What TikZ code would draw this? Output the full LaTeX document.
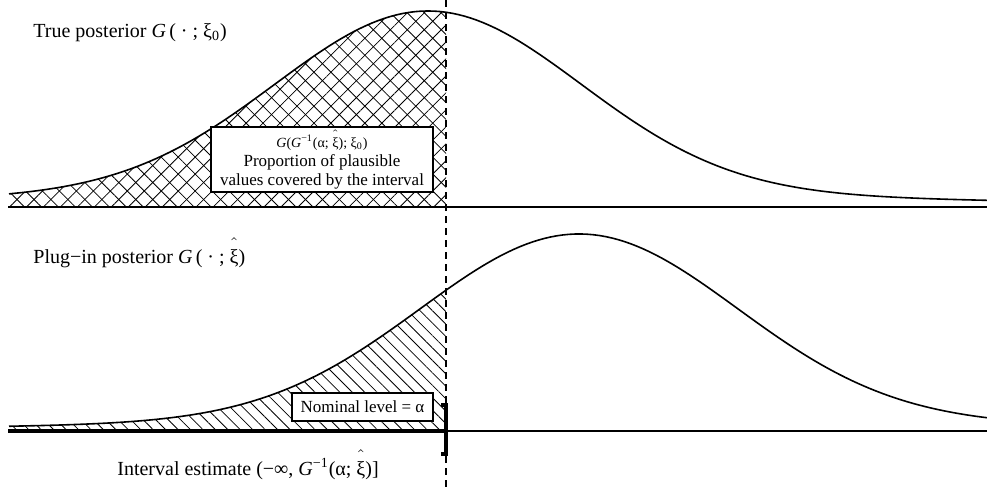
\documentclass[tikz,border=0pt]{standalone}
\usepackage{fontspec}
\setmainfont{Liberation Serif}
\usetikzlibrary{patterns.meta}
\newcommand{\xihat}{$\hat{\textrm{\raisebox{0pt}[1.02em]{ξ}}}$}

\begin{document}
\begin{tikzpicture}[x=0.5pt, y=-0.5pt,
  declare function={sq(\u)=\u*\u;
    gtrue(\t)=182*exp(-0.5*sq((\t-428)/152))+14*exp(-0.5*sq((\t-428)/450));
    gplug(\t)=187*exp(-0.5*sq((\t-579)/158))+10*exp(-0.5*sq((\t-579)/450));},
  dens/.style={line width=0.8pt},
  infobox/.style={draw, fill=white, line width=0.6pt, align=center, inner sep=1pt, font=\fontsize{8.5}{9.5}\selectfont},
  lbl/.style={anchor=base west, inner sep=0pt, font=\fontsize{10}{12}\selectfont}]
\useasboundingbox (0,0) rectangle (987,488);
\coordinate (toptop) at (446,0);
\coordinate (cutbot) at (446,488);
\coordinate (topl) at (8,207);
\coordinate (topr) at (987,207);
\coordinate (botl) at (8,431);
\coordinate (botm) at (446,431);
\coordinate (botr) at (987,431);
\fill[pattern={Lines[angle=45,distance=6pt,line width=0.4pt]}] (9,207) -- plot[domain=9:446,samples=80] (\x,{207-gtrue(\x)}) -- (446,207) -- cycle;
\fill[pattern={Lines[angle=-45,distance=6pt,line width=0.4pt]}] (9,207) -- plot[domain=9:446,samples=80] (\x,{207-gtrue(\x)}) -- (446,207) -- cycle;
\fill[pattern={Lines[angle=-45,distance=4.4pt,line width=0.4pt]}] (9,431) -- plot[domain=9:446,samples=80] (\x,{431-gplug(\x)}) -- (446,431) -- cycle;
\draw[dens] plot[domain=9:987,samples=160] (\x,{207-gtrue(\x)});
\draw[dens] plot[domain=9:987,samples=160] (\x,{431-gplug(\x)});
\draw[line width=1pt] (topl) -- (topr);
\draw[line width=0.6pt] (botm) -- (botr);
\draw[line width=2pt] (botl) -- (botm);
\node[infobox, minimum width=111pt, minimum height=32.5pt] (cover) at (322,159.5) {{\fontsize{7}{8}\selectfont\textit{G}(\textit{G}\textsuperscript{−1}(α; \xihat); ξ\textsubscript{0})}\\Proportion of plausible\\values covered by the interval};
\node[infobox, minimum width=70.5pt, minimum height=14pt] (nominal) at (362.5,407) {Nominal level = α};
\draw[line width=1pt, dash pattern=on 3.5pt off 2.5pt] (toptop) -- (cutbot);
\draw[line width=2pt] (441,405) -- (446,405) -- (446,454) -- (441,454);
\node[lbl] (truelbl) at (33,37) {True posterior \textit{G}\,( · ; ξ\textsubscript{0})};
\node[lbl] (pluglbl) at (33,263) {Plug−in posterior \textit{G}\,( · ; \xihat)};
\node[lbl] (intlbl) at (117,475) {Interval estimate (−∞, \textit{G}\textsuperscript{−1}(α; \xihat)]};
\end{tikzpicture}
\end{document}
